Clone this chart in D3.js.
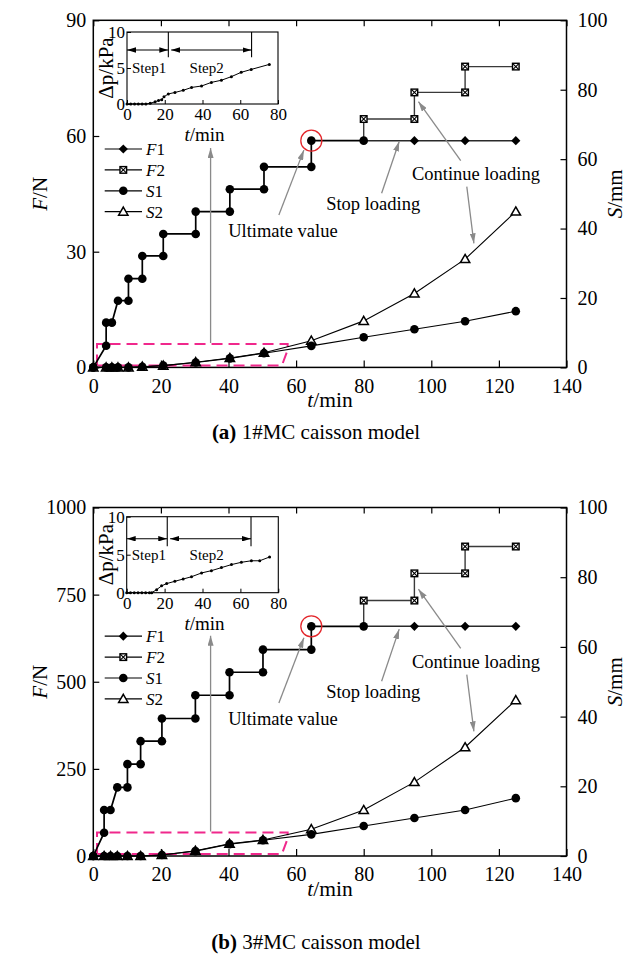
<!DOCTYPE html>
<html><head><meta charset="utf-8">
<script src="https://cdn.jsdelivr.net/npm/d3@7"></script>
<style>
body{margin:0;background:#fff;}
svg{display:block;}
svg text{font-family:"Liberation Serif","Times New Roman",serif;}
</style></head><body>
<svg id="c" width="635" height="959"></svg>
<script>
// ---------------- DATA ----------------
const xTicks = [0,20,40,60,80,100,120,140];
const sTicks = [0,20,40,60,80,100];
const fTicksA = [0,30,60,90];
const fTicksB = [0,250,500,750,1000];
const insetXTicks = [0,20,40,60,80];
const insetYTicks = [0,5,10];

// Panel (a) 1#MC
const f1TimeA = [0,3.8,3.8,5.5,7.3,10.4,10.4,14.5,14.5,20.7,20.7,30.3,30.3,40.4,40.4,50.5,50.5,64.5,64.5,80,95,110,125];
const f1ValA  = [0,5.6,11.6,11.6,17.3,17.3,23.0,23.0,28.9,28.9,34.6,34.6,40.4,40.4,46.2,46.2,52.0,52.0,58.8,58.8,58.8,58.8,58.8];
const f2TimeA = [80,80,95,95,110,110,125];
const f2ValA  = [58.8,64.4,64.4,71.3,71.3,78.0,78.0];
const sTimeA  = [0,3.8,5.5,7.3,10.4,14.5,20.7,30.3,40.4,50.5,64.5,80,95,110,125];
const s1A     = [0,0,0,0,0,0.2,0.5,1.4,2.6,4.1,6.2,8.7,11.0,13.3,16.2];
const s2A     = [0,0,0,0,0,0.2,0.5,1.5,2.7,4.2,7.7,13.4,21.3,31.2,44.9];
const dpTimeA = [0,2,4,6,8,10,12.3,14.9,16.7,18.4,19.6,21.9,25.4,29.8,34.2,39.5,44.7,50,55.3,60.5,65.8,75.4];
const dpA     = [0,0,0,0,0,0,0.1,0.3,0.5,0.6,1.0,1.4,1.6,1.9,2.3,2.5,3.0,3.3,3.8,4.4,4.8,5.5];
const stepsA  = [0,21.9,66];

// Panel (b) 3#MC
const f1TimeB = [0,3.2,3.2,5.1,7.1,10.1,10.1,14,14,20.3,20.3,30.2,30.2,40.3,40.3,50.2,50.2,64.5,64.5,80,95,110,125];
const f1ValB  = [0,66.8,131.8,131.8,196.8,196.8,263.6,263.6,329.5,329.5,394.5,394.5,461.3,461.3,527.2,527.2,592.2,592.2,659,659,659,659,659];
const f2TimeB = [80,80,95,95,110,110,125];
const f2ValB  = [659,733,733,811,811,888,888];
const sTimeB  = [0,3.2,5.1,7.1,10.1,14,20.3,30.2,40.3,50.2,64.5,80,95,110,125];
const s1B     = [0,0,0,0,0,0,0.3,1.4,3.4,4.5,6.2,8.6,10.9,13.2,16.6];
const s2B     = [0,0,0,0,0,0,0.3,1.5,3.5,4.6,7.7,13.2,21.2,31.2,44.7];
const dpTimeB = [0,2,4,6,8,10,12,13.2,15.8,18.4,21.1,25.4,29.8,34.2,39.5,44.7,50,55.3,60.5,65.8,70.2,75.4];
const dpB     = [0,0,0,0,0,0,0,0,0.4,0.9,1.2,1.5,1.8,2.1,2.6,2.9,3.3,3.7,4.0,4.2,4.2,4.7];
const stepsB  = [0,21.4,65.6];

const legendNames = [["F","1"],["F","2"],["S","1"],["S","2"]];
const captionsBold = ["(a)","(b)"];
const captionsText = [" 1#MC caisson model"," 3#MC caisson model"];
const annoTexts = ["Ultimate value","Stop loading","Continue loading"];
const stepLabels = ["Step1","Step2"];

// ---------------- LAYOUT / STYLE ----------------
const FONT = '"Liberation Serif","Times New Roman",serif';
const L = 93.3, R = 566.5;
const annoTextPos = [{t:56.1,f:0.3757},{t:82.8,f:0.4535},{t:113.2,f:0.54}];
const annoArrows = [
  {t1:54.9,f1:0.439,t2:62.3,f2:0.626},
  {t1:85.3,f1:0.5016,t2:90.5,f2:0.651},
  {t1:108.7,f1:0.5955,t2:96.2,f2:0.7655},
  {t1:110.5,f1:0.5206,t2:112.6,f2:0.3575},
  {t1:34.7,f1:0.0703,t2:34.7,f2:0.632}
];
const boxPts = [[1.1,0.0055],[1.1,0.0674],[57.5,0.0674],[57.5,0.05],[55.8,0.0055]];

const panels = [
  {top:20.3,bottom:367.4,fMax:90,fTicks:fTicksA,f1t:f1TimeA,f1v:f1ValA,f2t:f2TimeA,f2v:f2ValA,st:sTimeA,s1:s1A,s2:s2A,dpt:dpTimeA,dp:dpA,steps:stepsA,
   inset:{left:127,right:278,top:32,bottom:104},arrowDp:7.5,stepEnd:6.5,xLabelY:407,capY:439},
  {top:507.5,bottom:856,fMax:1000,fTicks:fTicksB,f1t:f1TimeB,f1v:f1ValB,f2t:f2TimeB,f2v:f2ValB,st:sTimeB,s1:s1B,s2:s2B,dpt:dpTimeB,dp:dpB,steps:stepsB,
   inset:{left:126.7,right:278.3,top:516.7,bottom:592.7},arrowDp:7.1,stepEnd:6.1,xLabelY:896,capY:949}
];

const svg = d3.select("#c");
svg.append("rect").attr("width",635).attr("height",959).attr("fill","#fff");
const defs = svg.append("defs");
defs.append("marker").attr("id","ga").attr("viewBox","0 0 10 6").attr("refX",10).attr("refY",3)
  .attr("markerWidth",10).attr("markerHeight",6).attr("markerUnits","userSpaceOnUse").attr("orient","auto")
  .append("path").attr("d","M0,0L10,3L0,6z").attr("fill","#8a8a8a");
defs.append("marker").attr("id","ba").attr("viewBox","0 0 10 6").attr("refX",10).attr("refY",3)
  .attr("markerWidth",9).attr("markerHeight",5.5).attr("markerUnits","userSpaceOnUse").attr("orient","auto-start-reverse")
  .append("path").attr("d","M0,0L10,3L0,6z").attr("fill","#000");

function marker(g, type, cx, cy) {
  if (type === "circle") {
    g.append("circle").attr("cx",cx).attr("cy",cy).attr("r",4.3).attr("fill","#000");
  } else if (type === "diamond") {
    g.append("path").attr("d",d3.symbol().type(d3.symbolSquare).size(42)())
      .attr("transform",`translate(${cx},${cy}) rotate(45)`).attr("fill","#000");
  } else if (type === "sq") {
    const s = 3.3;
    g.append("rect").attr("x",cx-s).attr("y",cy-s).attr("width",2*s).attr("height",2*s)
      .attr("fill","#fff").attr("stroke","#000").attr("stroke-width",1.4);
    g.append("path").attr("d",`M${cx-s},${cy-s}L${cx+s},${cy+s}M${cx+s},${cy-s}L${cx-s},${cy+s}`)
      .attr("stroke","#000").attr("stroke-width",1.1);
  } else if (type === "tri") {
    g.append("path").attr("d",d3.symbol().type(d3.symbolTriangle).size(38)())
      .attr("transform",`translate(${cx},${cy+0.8})`).attr("fill","#fff").attr("stroke","#000").attr("stroke-width",1.5);
  }
}

function styleAxis(sel, fs) {
  sel.select(".domain").remove();
  sel.attr("font-family",FONT).attr("font-size",fs);
  sel.selectAll("line").attr("stroke","#000").attr("stroke-width",1.2);
  sel.selectAll("text").attr("fill","#000");
}

panels.forEach((p, pi) => {
  const g = svg.append("g");
  const x = d3.scaleLinear().domain([0,140]).range([L,R]);
  const yF = d3.scaleLinear().domain([0,p.fMax]).range([p.bottom,p.top]);
  const yS = d3.scaleLinear().domain([0,100]).range([p.bottom,p.top]);
  const yFr = f => p.bottom - f*(p.bottom-p.top);

  // axes
  g.append("g").attr("transform",`translate(0,${p.bottom})`)
    .call(d3.axisBottom(x).tickValues(xTicks).tickSizeInner(-7).tickSizeOuter(0).tickPadding(11)).call(s=>styleAxis(s,20));
  g.append("g").attr("transform",`translate(0,${p.top})`)
    .call(d3.axisTop(x).tickValues(xTicks).tickSizeInner(-6).tickSizeOuter(0).tickFormat(()=>"")).call(s=>styleAxis(s,20));
  g.append("g").attr("transform",`translate(${L},0)`)
    .call(d3.axisLeft(yF).tickValues(p.fTicks).tickFormat(d3.format("d")).tickSizeInner(-6).tickSizeOuter(0).tickPadding(7)).call(s=>styleAxis(s,20));
  g.append("g").attr("transform",`translate(${R},0)`)
    .call(d3.axisRight(yS).tickValues(sTicks).tickSizeInner(-6).tickSizeOuter(0).tickPadding(11)).call(s=>styleAxis(s,20));
  g.append("rect").attr("x",L).attr("y",p.top).attr("width",R-L).attr("height",p.bottom-p.top)
    .attr("fill","none").attr("stroke","#000").attr("stroke-width",1.5);

  // axis titles
  const mid = (p.top+p.bottom)/2;
  const ft = g.append("text").attr("transform",`translate(47,${mid}) rotate(-90)`).attr("text-anchor","middle")
    .attr("font-family",FONT).attr("font-size",21);
  ft.append("tspan").attr("font-style","italic").text("F"); ft.append("tspan").text("/N");
  const st = g.append("text").attr("transform",`translate(622,${mid}) rotate(-90)`).attr("text-anchor","middle")
    .attr("font-family",FONT).attr("font-size",21);
  st.append("tspan").attr("font-style","italic").text("S"); st.append("tspan").text("/mm");
  const xt = g.append("text").attr("x",330).attr("y",p.xLabelY).attr("text-anchor","middle")
    .attr("font-family",FONT).attr("font-size",21.5);
  xt.append("tspan").attr("font-style","italic").text("t"); xt.append("tspan").text("/min");
  const cap = g.append("text").attr("x",316).attr("y",p.capY).attr("text-anchor","middle")
    .attr("font-family",FONT).attr("font-size",21);
  cap.append("tspan").attr("font-weight","bold").text(captionsBold[pi]); cap.append("tspan").text(captionsText[pi]);

  // magenta dashed box
  g.append("path").attr("d", d3.line().x(d=>x(d[0])).y(d=>yFr(d[1]))(boxPts)+"Z")
    .attr("fill","none").attr("stroke","#f0288c").attr("stroke-width",2).attr("stroke-dasharray","11,6");

  // S curves
  const sData1 = p.st.map((t,i)=>({t, v:p.s1[i]}));
  const sData2 = p.st.map((t,i)=>({t, v:p.s2[i]}));
  const sLine = d3.line().x(d=>x(d.t)).y(d=>yS(d.v));
  g.append("path").attr("d",sLine(sData2)).attr("fill","none").attr("stroke","#000").attr("stroke-width",1.1);
  g.append("path").attr("d",sLine(sData1)).attr("fill","none").attr("stroke","#000").attr("stroke-width",1.1);
  sData2.forEach(d=>marker(g,"tri",x(d.t),yS(d.v)));
  sData1.forEach(d=>marker(g,"circle",x(d.t),yS(d.v)));

  // F curves
  const fLine = d3.line().x(d=>x(d.t)).y(d=>yF(d.v));
  const f1 = p.f1t.map((t,i)=>({t, v:p.f1v[i]}));
  const f2 = p.f2t.map((t,i)=>({t, v:p.f2v[i]}));
  g.append("path").attr("d",fLine(f2)).attr("fill","none").attr("stroke","#3a3a3a").attr("stroke-width",1.4);
  g.append("path").attr("d",fLine(f1.filter(d=>d.t<=80))).attr("fill","none").attr("stroke","#000").attr("stroke-width",1.7);
  g.append("path").attr("d",fLine(f1.filter(d=>d.t>=80))).attr("fill","none").attr("stroke","#2a2a2a").attr("stroke-width",1.5);
  f2.slice(1).forEach(d=>marker(g,"sq",x(d.t),yF(d.v)));
  f1.forEach(d=>marker(g, d.t>80 ? "diamond" : "circle", x(d.t), yF(d.v)));

  // red circle at ultimate value
  const ult = f1.filter(d=>d.t<80).reduce((a,b)=>b.v>=a.v?b:a);
  g.append("circle").attr("cx",x(ult.t)).attr("cy",yF(ult.v)).attr("r",10.5)
    .attr("fill","none").attr("stroke","#e3262b").attr("stroke-width",1.3);

  // annotations
  annoArrows.forEach(a=>{
    g.append("line").attr("x1",x(a.t1)).attr("y1",yFr(a.f1)).attr("x2",x(a.t2)).attr("y2",yFr(a.f2))
      .attr("stroke","#8a8a8a").attr("stroke-width",1.3).attr("marker-end","url(#ga)");
  });
  annoTexts.forEach((t,i)=>{
    g.append("text").attr("x",x(annoTextPos[i].t)).attr("y",yFr(annoTextPos[i].f)).attr("text-anchor","middle")
      .attr("font-family",FONT).attr("font-size",18.5).text(t);
  });

  // legend
  legendNames.forEach((nm,i)=>{
    const ly = p.top + 128.7 + i*20.9;
    g.append("line").attr("x1",104.7).attr("x2",142).attr("y1",ly).attr("y2",ly).attr("stroke","#000").attr("stroke-width",1.2);
    marker(g, ["diamond","sq","circle","tri"][i], 123.3, ly);
    const tx = g.append("text").attr("x",146).attr("y",ly+6).attr("font-family",FONT).attr("font-size",17);
    tx.append("tspan").attr("font-style","italic").text(nm[0]); tx.append("tspan").text(nm[1]);
  });

  // inset
  const ins = p.inset;
  const xi = d3.scaleLinear().domain([0,80]).range([ins.left,ins.right]);
  const yi = d3.scaleLinear().domain([0,10]).range([ins.bottom,ins.top]);
  const ig = g.append("g");
  ig.append("g").attr("transform",`translate(0,${ins.bottom})`)
    .call(d3.axisBottom(xi).tickValues(insetXTicks).tickSizeInner(-4).tickSizeOuter(0).tickPadding(4)).call(s=>styleAxis(s,17));
  ig.append("g").attr("transform",`translate(${ins.left},0)`)
    .call(d3.axisLeft(yi).tickValues(insetYTicks).tickSizeInner(-4).tickSizeOuter(0).tickPadding(2)).call(s=>styleAxis(s,17));
  ig.selectAll("line").attr("stroke-width",1);
  ig.append("rect").attr("x",ins.left).attr("y",ins.top).attr("width",ins.right-ins.left).attr("height",ins.bottom-ins.top)
    .attr("fill","none").attr("stroke","#000").attr("stroke-width",1.1);
  const dpData = p.dpt.map((t,i)=>({t, v:p.dp[i]}));
  ig.append("path").attr("d",d3.line().x(d=>xi(d.t)).y(d=>yi(d.v))(dpData)).attr("fill","none").attr("stroke","#000").attr("stroke-width",1);
  ig.selectAll("circle.dp").data(dpData).enter().append("circle").attr("cx",d=>xi(d.t)).attr("cy",d=>yi(d.v)).attr("r",1.5).attr("fill","#000");
  [p.steps[1],p.steps[2]].forEach(t=>{
    ig.append("line").attr("x1",xi(t)).attr("x2",xi(t)).attr("y1",yi(10)).attr("y2",yi(p.stepEnd)).attr("stroke","#000").attr("stroke-width",1.1);
  });
  ig.append("line").attr("x1",xi(p.steps[0])).attr("x2",xi(p.steps[1])).attr("y1",yi(p.arrowDp)).attr("y2",yi(p.arrowDp))
    .attr("stroke","#000").attr("stroke-width",1.1).attr("marker-start","url(#ba)").attr("marker-end","url(#ba)");
  ig.append("line").attr("x1",xi(p.steps[1]+1.5)).attr("x2",xi(p.steps[2])).attr("y1",yi(p.arrowDp)).attr("y2",yi(p.arrowDp))
    .attr("stroke","#000").attr("stroke-width",1.1).attr("marker-start","url(#ba)").attr("marker-end","url(#ba)");
  [[11.7,stepLabels[0]],[42.2,stepLabels[1]]].forEach(([t,s])=>{
    ig.append("text").attr("x",xi(t)).attr("y",yi(4.26)).attr("text-anchor","middle").attr("font-family",FONT).attr("font-size",15).text(s);
  });
  ig.append("text").attr("transform",`translate(${ins.left-14},${(ins.top+ins.bottom)/2}) rotate(-90)`).attr("text-anchor","middle")
    .attr("font-family",FONT).attr("font-size",21).text("Δp/kPa");
  const it = ig.append("text").attr("x",(ins.left+ins.right)/2+2).attr("y",ins.bottom+37).attr("text-anchor","middle")
    .attr("font-family",FONT).attr("font-size",19);
  it.append("tspan").attr("font-style","italic").text("t"); it.append("tspan").text("/min");
});
</script></body></html>
